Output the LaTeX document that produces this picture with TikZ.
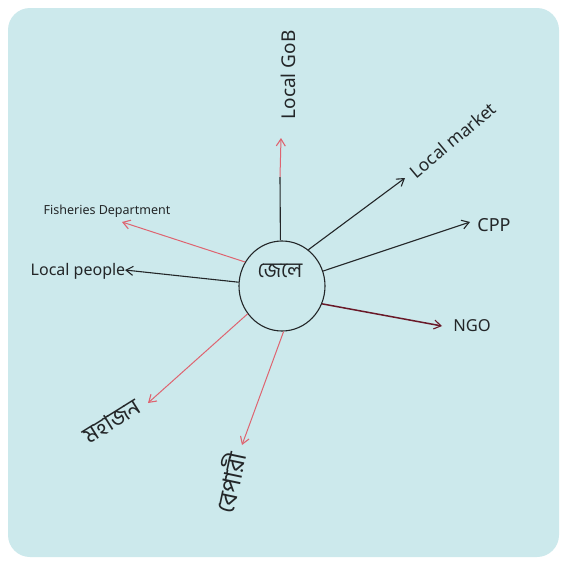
\documentclass[tikz,border=0pt]{standalone}
\usepackage{fontspec}
\setmainfont{Noto Sans}
\newfontfamily\bn[Script=Bengali]{Hind Siliguri}
\usetikzlibrary{arrows.meta,shapes.geometric}
\definecolor{paper}{RGB}{204,233,236}
\definecolor{ink}{RGB}{35,38,40}
\definecolor{redink}{RGB}{222,100,112}
\definecolor{maroon}{RGB}{105,25,40}
\tikzset{
  blk/.style={draw=ink, line width=1.1pt},
  rdl/.style={draw=redink, line width=1.0pt},
  arr/.style={-{Straight Barb[length=7pt,width=9pt,line width=1.1pt]}},
  lab/.style={text=ink, inner sep=1pt},
}
\begin{document}
\begin{tikzpicture}[x=1pt,y=-1pt]
\useasboundingbox (0,0) rectangle (567,565);
\fill[white] (0,0) rectangle (567,565);
\fill[paper, rounded corners=22pt] (8,8) rectangle (559,557);

% centre
\node[ellipse, draw=ink, line width=1.1pt, minimum width=86pt, minimum height=90pt, inner sep=0pt] (c) at (282,286) {};
\node[lab, font=\bn\fontsize{21}{21}\selectfont] (lbl) at (280,271) {জেলে};

% tips
\coordinate (mGoB) at (280,177);
\coordinate (tGoB) at (281,138);
\coordinate (tMarket) at (405,178);
\coordinate (tCPP) at (470,222);
\coordinate (tNGO) at (442,326);
\coordinate (tFish) at (122,222);
\coordinate (tPeople) at (125,270);
\coordinate (tMaha) at (148,403);
\coordinate (tBep) at (242,445);

% labels
\node[lab, rotate=90, font=\fontsize{19}{19}\selectfont] (gob) at (288,75) {Local GoB};
\node[lab, rotate=40, font=\fontsize{17.5}{17.5}\selectfont] (market) at (453,140) {Local market};
\node[lab, font=\fontsize{18}{18}\selectfont] (cpp) at (494,225) {CPP};
\node[lab, font=\fontsize{16.5}{16.5}\selectfont] (ngo) at (472,326) {NGO};
\node[lab, font=\fontsize{12.5}{12.5}\selectfont] (fish) at (107,211) {Fisheries Department};
\node[lab, font=\fontsize{16}{16}\selectfont] (people) at (78,271) {Local people};
\node[lab, rotate=32, font=\bn\fontsize{23}{23}\selectfont] (maha) at (112,421) {মহাজন};
\node[lab, rotate=78, font=\bn\fontsize{25}{25}\selectfont] (bep) at (229,482) {বেপারী};

% connectors
\draw[blk] (c.92) -- (mGoB);
\draw[rdl, arr] (mGoB) -- (tGoB);
\draw[blk, arr] (c.54) -- (tMarket);
\draw[blk, arr] (c.20) -- (tCPP);
\draw[draw=maroon, line width=1.5pt, arr] (c.-24) -- (tNGO);
\draw[rdl, arr] (c.147) -- (tFish);
\draw[blk, arr] (c.175) -- (tPeople);
\draw[rdl, arr] (c.219) -- (tMaha);
\draw[rdl, arr] (c.272) -- (tBep);
\end{tikzpicture}
\end{document}
